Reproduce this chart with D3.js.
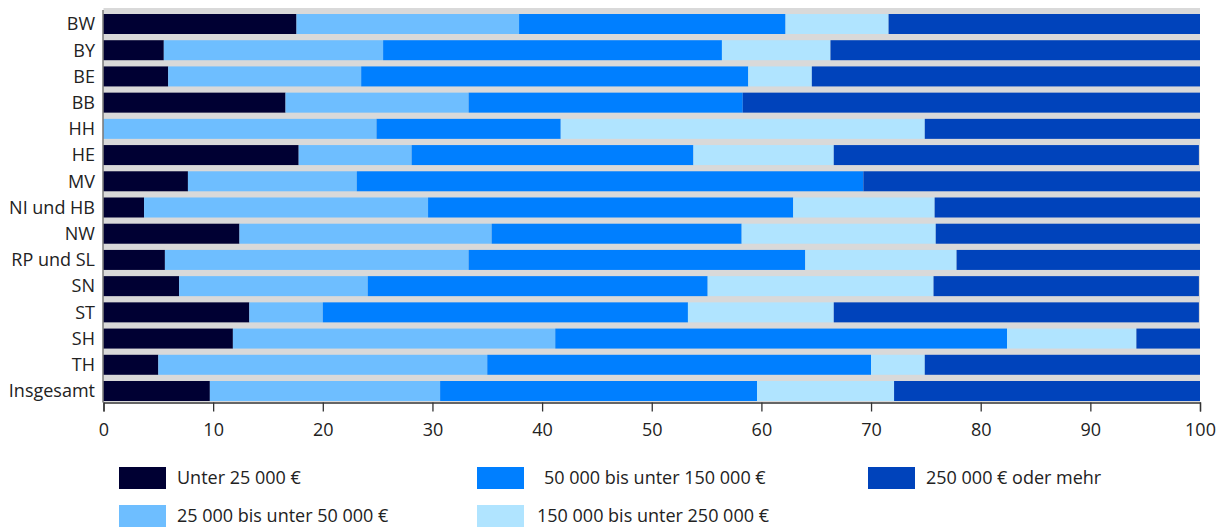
<!DOCTYPE html>
<html>
<head>
<meta charset="utf-8">
<script src="https://cdn.jsdelivr.net/npm/d3@7"></script>
<style>
  html, body { margin: 0; padding: 0; background: #fff; }
  svg { display: block; font-family: "Open Sans", sans-serif; }
</style>
</head>
<body>
<svg id="chart" width="1224" height="527"></svg>
<script>
const categories = ["BW","BY","BE","BB","HH","HE","MV","NI und HB","NW","RP und SL","SN","ST","SH","TH","Insgesamt"];
const seriesNames = ["Unter 25 000 €","25 000 bis unter 50 000 €","50 000 bis unter 150 000 €","150 000 bis unter 250 000 €","250 000 € oder mehr"];
const unter25 =   [17.6, 5.5, 5.9, 16.6, 0.0, 17.8, 7.7, 3.7, 12.4, 5.6, 6.9, 13.3, 11.8, 5.0, 9.7];
const bis50 =     [20.3, 20.0, 17.6, 16.7, 24.9, 10.3, 15.4, 25.9, 23.0, 27.7, 17.2, 6.7, 29.4, 30.0, 21.0];
const bis150 =    [24.3, 30.9, 35.3, 25.0, 16.8, 25.7, 46.2, 33.3, 22.8, 30.7, 31.0, 33.3, 41.2, 35.0, 28.9];
const bis250 =    [9.4, 9.9, 5.8, 0.0, 33.2, 12.8, 0.0, 12.9, 17.7, 13.8, 20.6, 13.3, 11.8, 4.9, 12.5];
const ab250 =     [28.4, 33.7, 35.4, 41.7, 25.1, 33.3, 30.7, 24.2, 24.1, 22.2, 24.2, 33.3, 5.8, 25.1, 27.9];
const xTicks = [0,10,20,30,40,50,60,70,80,90,100];
const colors = ["#000033","#6ebeff","#007fff","#b0e4ff","#0043bb"];

const seriesValues = [unter25, bis50, bis150, bis250, ab250];
const rows = categories.map((c, i) => {
  const r = { cat: c };
  seriesNames.forEach((s, j) => r[s] = seriesValues[j][i]);
  return r;
});
const stacked = d3.stack().keys(seriesNames)(rows);

const svg = d3.select("#chart");
const x = d3.scaleLinear().domain([0, 100]).range([103.5, 1200]);
const y = d3.scaleBand().domain(categories).range([8, 402])
  .paddingInner(0.237).paddingOuter(0.1335).align(0.857);

// plot background
svg.append("rect")
  .attr("x", x(0)).attr("y", 8)
  .attr("width", x(100) - x(0)).attr("height", 402 - 8)
  .attr("fill", "#d9d9d9");

// bars
const layers = svg.append("g").selectAll("g").data(stacked).join("g")
  .attr("fill", (d, i) => colors[i]);
layers.selectAll("rect").data(d => d).join("rect")
  .attr("x", d => x(d[0]))
  .attr("y", d => y(d.data.cat))
  .attr("width", d => Math.max(0, x(d[1]) - x(d[0])))
  .attr("height", y.bandwidth());

// y axis line
svg.append("line")
  .attr("x1", 103).attr("x2", 103).attr("y1", 10).attr("y2", 402.5)
  .attr("stroke", "#555").attr("stroke-width", 1.2);

// y labels
svg.append("g").selectAll("text").data(categories).join("text")
  .attr("x", 95)
  .attr("y", d => y(d) + y.bandwidth() / 2)
  .attr("dy", "0.35em")
  .attr("text-anchor", "end")
  .attr("font-size", 18)
  .attr("fill", "#222")
  .text(d => d);

// x axis
const xAxis = svg.append("g")
  .attr("transform", "translate(0,402.5)")
  .call(d3.axisBottom(x).tickValues(xTicks).tickSize(9).tickPadding(12).tickSizeOuter(9));
xAxis.select(".domain").attr("stroke", "#333").attr("stroke-width", 1.3);
xAxis.selectAll(".tick line").attr("stroke", "#333").attr("stroke-width", 1.3);
xAxis.selectAll(".tick text").attr("font-size", 18).attr("fill", "#222")
  .attr("font-family", "\"Open Sans\", sans-serif");

// legend
const legendPos = [
  { sx: 119, tx: 177, y: 467 },
  { sx: 119, tx: 177, y: 505 },
  { sx: 477, tx: 544, y: 467 },
  { sx: 477, tx: 537, y: 505 },
  { sx: 868, tx: 926, y: 467 }
];
const lg = svg.append("g");
seriesNames.forEach((s, i) => {
  const p = legendPos[i];
  lg.append("rect").attr("x", p.sx).attr("y", p.y).attr("width", 47).attr("height", 22)
    .attr("fill", colors[i]);
  lg.append("text").attr("x", p.tx).attr("y", p.y + 11).attr("dy", "0.35em")
    .attr("font-size", 18).attr("fill", "#222").text(s);
});
</script>
</body>
</html>
